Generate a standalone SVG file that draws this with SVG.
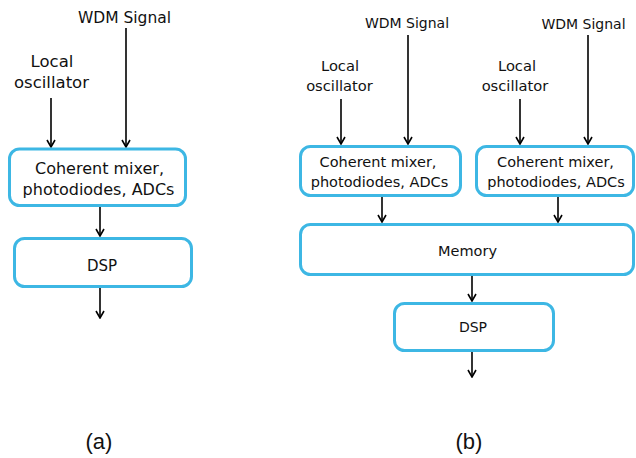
<svg xmlns="http://www.w3.org/2000/svg" width="636" height="458" viewBox="0 0 636 458">
  <defs>
    <style>
      .box { fill: #ffffff; stroke: #3db7e4; stroke-width: 3; }
      .t { font-family: "DejaVu Sans", "Noto Sans", sans-serif; fill: #111111; text-anchor: middle; }
      .cap { font-family: "Liberation Sans", Arial, sans-serif; font-size: 22px; fill: #111111; text-anchor: middle; }
      .wire { stroke: #000000; stroke-width: 1.6; fill: none; marker-end: url(#head); }
    </style>
    <marker id="head" markerUnits="userSpaceOnUse" markerWidth="10" markerHeight="10" viewBox="0 0 10 10" refX="9" refY="5" orient="auto">
      <path d="M2,1 L9,5 L2,9" fill="none" stroke="#000000" stroke-width="1.6"/>
    </marker>
  </defs>
  <rect width="636" height="458" fill="#ffffff"/>

  <!-- connectors -->
  <g id="connectors">
    <!-- (a) single receiver -->
    <line class="wire" x1="126" y1="28" x2="126" y2="147"/>
    <line class="wire" x1="51" y1="98" x2="51" y2="147"/>
    <line class="wire" x1="100" y1="207" x2="100" y2="236"/>
    <line class="wire" x1="100" y1="288" x2="100" y2="318"/>
    <!-- (b) dual receiver with shared memory -->
    <line class="wire" x1="408" y1="35" x2="408" y2="144"/>
    <line class="wire" x1="341" y1="99" x2="341" y2="144"/>
    <line class="wire" x1="588" y1="35" x2="588" y2="144"/>
    <line class="wire" x1="520" y1="99" x2="520" y2="144"/>
    <line class="wire" x1="382" y1="197" x2="382" y2="222"/>
    <line class="wire" x1="558" y1="197" x2="558" y2="222"/>
    <line class="wire" x1="472" y1="276" x2="472" y2="301"/>
    <line class="wire" x1="472" y1="352" x2="472" y2="377"/>
  </g>

  <!-- (a) inputs -->
  <g id="a-wdm">
    <text class="t" x="124.5" y="23" font-size="15.5">WDM Signal</text>
  </g>
  <g id="a-lo">
    <text class="t" x="52" y="67" font-size="16.5">Local</text>
    <text class="t" x="51.5" y="88" font-size="16.5">oscillator</text>
  </g>
  <g id="a-mixer">
    <rect class="box" x="9.5" y="149" width="176" height="56.5" rx="10"/>
    <text class="t" x="99.5" y="174" font-size="16">Coherent mixer,</text>
    <text class="t" x="98.5" y="195" font-size="16">photodiodes, ADCs</text>
  </g>
  <g id="a-dsp">
    <rect class="box" x="14.5" y="238.5" width="177" height="48" rx="10"/>
    <text class="t" x="102" y="271" font-size="15">DSP</text>
  </g>

  <!-- (b) inputs -->
  <g id="b-wdm1">
    <text class="t" x="407" y="28" font-size="14">WDM Signal</text>
  </g>
  <g id="b-lo1">
    <text class="t" x="340" y="71" font-size="14.7">Local</text>
    <text class="t" x="339.5" y="91" font-size="14.7">oscillator</text>
  </g>
  <g id="b-wdm2">
    <text class="t" x="583.5" y="29" font-size="14">WDM Signal</text>
  </g>
  <g id="b-lo2">
    <text class="t" x="517" y="71" font-size="14.7">Local</text>
    <text class="t" x="515" y="91" font-size="14.7">oscillator</text>
  </g>
  <g id="b-mixer1">
    <rect class="box" x="300.5" y="146.5" width="160" height="49" rx="10"/>
    <text class="t" x="378" y="167" font-size="14.5">Coherent mixer,</text>
    <text class="t" x="379.5" y="187" font-size="14.5">photodiodes, ADCs</text>
  </g>
  <g id="b-mixer2">
    <rect class="box" x="476.5" y="146.5" width="157" height="49" rx="10"/>
    <text class="t" x="555.5" y="167" font-size="14.5">Coherent mixer,</text>
    <text class="t" x="556" y="187" font-size="14.5">photodiodes, ADCs</text>
  </g>
  <g id="b-memory">
    <rect class="box" x="300.5" y="224.5" width="333" height="50" rx="10"/>
    <text class="t" x="467.5" y="256" font-size="14.5">Memory</text>
  </g>
  <g id="b-dsp">
    <rect class="box" x="394.5" y="303.5" width="159" height="47" rx="10"/>
    <text class="t" x="473" y="332" font-size="14">DSP</text>
  </g>

  <!-- panel captions -->
  <g id="caption-a">
    <text class="cap" x="99" y="449">(a)</text>
  </g>
  <g id="caption-b">
    <text class="cap" x="469" y="449">(b)</text>
  </g>
</svg>
